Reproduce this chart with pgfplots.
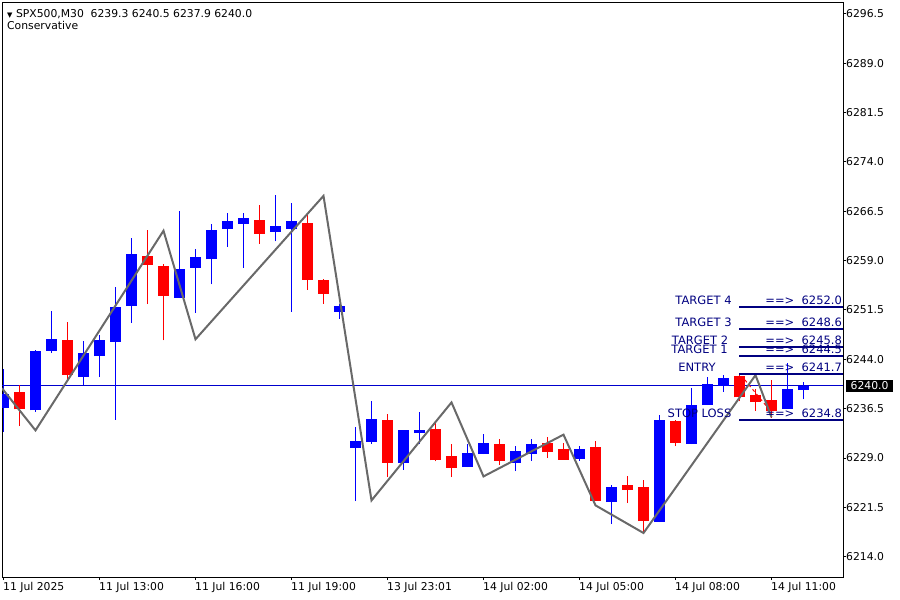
\documentclass[border=0pt]{standalone}
\usepackage{pgfplots}
\pgfplotsset{compat=1.18}
\usepackage{pgfplotstable}
\usepackage{fontspec}
\setmainfont{DejaVu Sans}
\definecolor{cblue}{RGB}{0,0,255}
\definecolor{cred}{RGB}{255,0,0}
\definecolor{zz}{RGB}{105,105,105}
\definecolor{navy}{RGB}{0,0,128}
\definecolor{pline}{RGB}{0,0,205}
\newcommand{\tf}{\fontsize{10.8}{12}\selectfont}
\newcommand{\lf}{\fontsize{11.5}{13}\selectfont}

\pgfplotstableread{
x o h l c
0 6236.6 6242.6 6233.0 6238.8
2 6236.25 6245.4 6236.0 6245.2
3 6245.3 6251.3 6245.0 6247.1
5 6241.3 6246.75 6240.05 6244.9
6 6244.5 6247.65 6241.3 6246.9
7 6246.65 6254.95 6234.8 6251.9
8 6252.1 6262.4 6249.55 6260.0
11 6253.35 6266.5 6253.3 6257.7
12 6257.9 6260.75 6251.05 6259.55
13 6259.2 6264.55 6255.4 6263.65
14 6263.85 6266.25 6261.1 6265.0
15 6264.6 6266.25 6257.9 6265.45
17 6263.4 6268.95 6261.95 6264.25
18 6263.85 6267.75 6251.2 6265.0
21 6251.2 6252.45 6250.15 6252.1
22 6230.5 6233.7 6222.45 6231.55
23 6231.45 6237.65 6231.2 6234.9
25 6228.25 6233.2 6227.25 6233.2
26 6232.8 6236.0 6231.2 6233.2
29 6227.6 6231.1 6227.6 6229.7
30 6229.6 6232.6 6229.6 6231.25
32 6228.25 6230.8 6227.0 6230.0
33 6229.6 6231.85 6228.55 6231.1
36 6228.85 6230.8 6228.55 6230.3
38 6222.3 6224.85 6218.95 6224.55
41 6219.25 6235.5 6219.25 6234.75
43 6231.15 6239.6 6231.1 6237.0
44 6237.05 6241.25 6237.05 6240.2
45 6240.0 6241.6 6239.1 6241.1
49 6236.5 6243.45 6236.5 6239.55
50 6239.3 6240.5 6237.9 6240.0
}\bull

\pgfplotstableread{
x o h l c
1 6239.0 6240.05 6233.85 6236.4
4 6246.9 6249.65 6240.9 6241.6
9 6259.7 6263.65 6252.4 6258.35
10 6258.15 6258.55 6246.9 6253.65
16 6265.15 6267.45 6261.55 6263.1
19 6264.7 6266.2 6254.55 6256.1
20 6256.1 6256.2 6252.45 6253.95
24 6234.75 6235.75 6226.1 6228.25
27 6233.35 6234.25 6228.5 6228.65
28 6229.25 6231.1 6226.1 6227.5
31 6231.1 6231.85 6227.9 6228.55
34 6231.25 6232.15 6229.0 6229.9
35 6230.3 6231.25 6228.7 6228.7
37 6230.6 6231.55 6222.45 6222.45
39 6224.85 6226.2 6222.15 6224.15
40 6224.55 6225.6 6217.6 6219.4
42 6234.6 6234.75 6230.8 6231.3
46 6241.45 6241.6 6237.6 6238.2
47 6238.65 6239.55 6236.2 6237.5
48 6237.75 6240.8 6235.15 6236.2
}\bear

\begin{document}
\begin{tikzpicture}
\useasboundingbox (-2pt,-23pt) rectangle (898pt,577pt);
\begin{axis}[
  scale only axis,
  width=841pt, height=574pt,
  xmin=-0.09375, xmax=52.46875,
  ymin=6210.91, ymax=6298.17,
  clip mode=individual,
  axis line style={black, line width=1pt},
  tick style={black, line width=1pt},
  tick align=outside,
  major tick length=3pt,
  xtick pos=bottom,
  ytick pos=right,
  yticklabel pos=right,
  xtick={0,6,12,18,24,30,36,42,48},
  xticklabels={11 Jul 2025, 11 Jul 13:00, 11 Jul 16:00, 11 Jul 19:00, 13 Jul 23:01, 14 Jul 02:00, 14 Jul 05:00, 14 Jul 08:00, 14 Jul 11:00},
  ytick={6214,6221.5,6229,6236.5,6244,6251.5,6259,6266.5,6274,6281.5,6289,6296.5},
  xticklabel style={font=\tf, anchor=north west, inner sep=0pt, xshift=-0.5pt, yshift=-2pt},
  yticklabel style={font=\tf, anchor=west, inner sep=0pt, xshift=0pt,
    /pgf/number format/.cd, fixed, fixed zerofill, precision=1, 1000 sep={}, assume math mode=true},
]
% current price line
\addplot[pline, line width=1.2pt, forget plot] coordinates {(-0.09375,6240.0) (52.46875,6240.0)};

% wicks
\addplot[cblue, draw=none, mark=none, forget plot, error bars/.cd, y dir=plus, y explicit, error mark=none,
  error bar style={draw=cblue, line width=1.3pt}]
  table[x=x, y=l, y error plus expr=\thisrow{h}-\thisrow{l}] {\bull};
\addplot[cred, draw=none, mark=none, forget plot, error bars/.cd, y dir=plus, y explicit, error mark=none,
  error bar style={draw=cred, line width=1.3pt}]
  table[x=x, y=l, y error plus expr=\thisrow{h}-\thisrow{l}] {\bear};
% bodies
\addplot[cblue, draw=none, mark=none, forget plot, error bars/.cd, y dir=plus, y explicit, error mark=none,
  error bar style={draw=cblue, line width=11pt}]
  table[x=x, y=o, y error plus expr=\thisrow{c}-\thisrow{o}] {\bull};
\addplot[cred, draw=none, mark=none, forget plot, error bars/.cd, y dir=plus, y explicit, error mark=none,
  error bar style={draw=cred, line width=11pt}]
  table[x=x, y=c, y error plus expr=\thisrow{o}-\thisrow{c}] {\bear};

% small red dotted trade line
\addplot[cred, line width=1pt, dash pattern=on 3pt off 3pt, forget plot] coordinates {(46.34,6240.86) (47.78,6236.6)};

% zigzag
\addplot[zz, line width=2pt, forget plot] coordinates {
(-0.09375,6239.6) (2,6233.2) (10,6263.55) (12,6247.05) (20,6268.85) (23,6222.55)
(28,6237.45) (30,6226.2) (35,6232.55) (37,6221.8) (40,6217.6) (47,6241.6) (48,6235.2)};

% level lines
\addplot[navy, line width=2pt, forget plot] coordinates {(45.97,6252.0) (52.46875,6252.0)};
\addplot[navy, line width=2pt, forget plot] coordinates {(45.97,6248.6) (52.46875,6248.6)};
\addplot[navy, line width=2pt, forget plot] coordinates {(45.97,6245.8) (52.46875,6245.8)};
\addplot[navy, line width=2pt, forget plot] coordinates {(45.97,6244.5) (52.46875,6244.5)};
\addplot[navy, line width=2pt, forget plot] coordinates {(45.97,6241.7) (52.46875,6241.7)};
\addplot[navy, line width=2pt, forget plot] coordinates {(45.97,6234.8) (52.46875,6234.8)};

% level labels
\node[navy, font=\lf, anchor=base, inner sep=0pt, yshift=2.5pt] at (axis cs:43.75,6252.0) {TARGET 4};
\node[navy, font=\lf, anchor=base, inner sep=0pt, yshift=2.5pt] at (axis cs:43.75,6248.6) {TARGET 3};
\node[navy, font=\lf, anchor=base, inner sep=0pt, yshift=2.5pt] at (axis cs:43.53,6245.8) {TARGET 2};
\node[navy, font=\lf, anchor=base, inner sep=0pt, yshift=2.5pt] at (axis cs:43.5,6244.5) {TARGET 1};
\node[navy, font=\lf, anchor=base, inner sep=0pt, yshift=2.5pt] at (axis cs:43.34,6241.7) {ENTRY};
\node[navy, font=\lf, anchor=base, inner sep=0pt, yshift=2.5pt] at (axis cs:43.5,6234.8) {STOP LOSS};
\node[navy, font=\lf, anchor=base east, inner sep=0pt, yshift=2.5pt] at (axis cs:52.41,6252.0) {==>\ \ 6252.0};
\node[navy, font=\lf, anchor=base east, inner sep=0pt, yshift=2.5pt] at (axis cs:52.41,6248.6) {==>\ \ 6248.6};
\node[navy, font=\lf, anchor=base east, inner sep=0pt, yshift=2.5pt] at (axis cs:52.41,6245.8) {==>\ \ 6245.8};
\node[navy, font=\lf, anchor=base east, inner sep=0pt, yshift=2.5pt] at (axis cs:52.41,6244.5) {==>\ \ 6244.5};
\node[navy, font=\lf, anchor=base east, inner sep=0pt, yshift=2.5pt] at (axis cs:52.41,6241.7) {==>\ \ 6241.7};
\node[navy, font=\lf, anchor=base east, inner sep=0pt, yshift=2.5pt] at (axis cs:52.41,6234.8) {==>\ \ 6234.8};

% current price box
\node[fill=black, text=white, font=\tf, anchor=west, inner xsep=4.5pt, inner ysep=2pt, xshift=3pt] at (axis cs:52.46875,6240.0) {6240.0};

% header
\node[anchor=base west, inner sep=0pt, font=\tf, xshift=5pt, yshift=-14.3pt] at (rel axis cs:0,1)
  {{\fontsize{7}{7}\selectfont ▼}\ SPX500,M30\ \ 6239.3 6240.5 6237.9 6240.0};
\node[anchor=base west, inner sep=0pt, font=\tf, xshift=5pt, yshift=-26.3pt] at (rel axis cs:0,1) {Conservative};
\end{axis}
\end{tikzpicture}
\end{document}
